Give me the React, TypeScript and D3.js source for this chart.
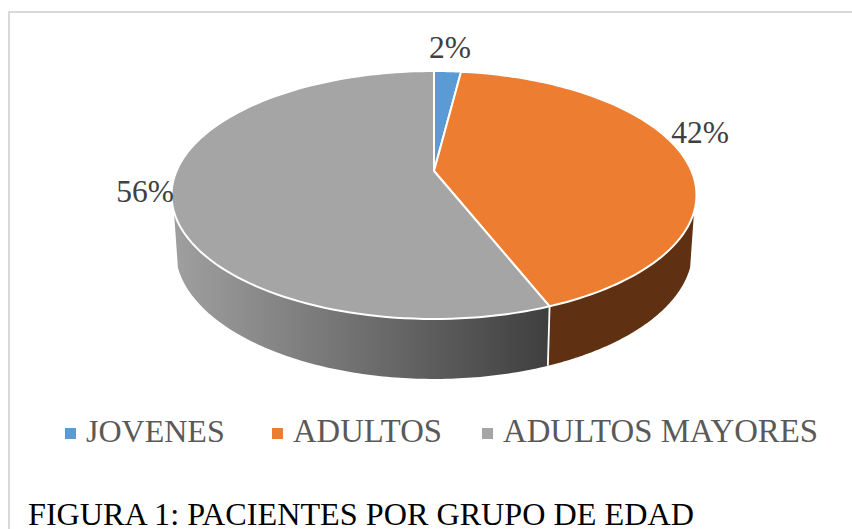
import React from "react";
import * as d3 from "d3";

const categories = ["JOVENES", "ADULTOS", "ADULTOS MAYORES"];
const shares = [2, 42, 56];
const colors = ["#5b9bd5", "#ed7d31", "#a5a5a5"];
const sideColors = ["#2f5f8c", "#5f3112", "url(#graySide)"];
const labelTexts = ["2%", "42%", "56%"];
const labelPos: [number, number][] = [[450, 58], [700, 143], [145, 202]];
const legendX = [65, 272, 482];
const legendFont = [32, 32.7, 32.8];
const titleText = "FIGURA 1: PACIENTES POR GRUPO DE EDAD";

const W = 852, H = 529;
const CX = 434, CY = 171;
const K = 0.1935, RX = 257.5, RY = 119.35;
const ELLIPSE_CY = 195, LOWER_CY = 250, SHRINK_X = 0.985, STRETCH_Y = 1.04;
const SIDE_TRIM = 0.327;

// perspective projection of the unit-circle pie onto the top face
const project = (a: number): [number, number] => {
  const u = Math.sin(a), v = -Math.cos(a);
  const w = 1 - K * v;
  return [CX + (RX * u) / w, CY + (RY * v) / w];
};
const lower = ([x, y]: [number, number]): [number, number] => [
  CX + (x - CX) * SHRINK_X,
  LOWER_CY + (y - ELLIPSE_CY) * STRETCH_Y,
];
const arcPts = (a0: number, a1: number, lo = false): [number, number][] =>
  d3.range(0, 1.0001, 1 / 120).map((t) => {
    const p = project(a0 + (a1 - a0) * t);
    return lo ? lower(p) : p;
  });

export default function App() {
  const arcs = d3.pie<number>().sort(null)(shares);
  const line = d3.line();
  return (
    <svg width={W} height={H} style={{ position: "absolute", left: 0, top: 0, background: "#fff" }} fontFamily="'Liberation Serif', serif">
      <defs>
        <linearGradient id="graySide" gradientUnits="userSpaceOnUse" x1={172} x2={548} y1={0} y2={0}>
          <stop offset="0" stopColor="#a0a0a0" />
          <stop offset="1" stopColor="#3f3f3f" />
        </linearGradient>
      </defs>
      <path d={`M9 ${H}V12H${W}`} fill="none" stroke="#d9d9d9" strokeWidth={2} />
      {arcs.map((d, i) => {
        const a0 = Math.max(d.startAngle, Math.PI / 2 + SIDE_TRIM);
        const a1 = Math.min(d.endAngle, (3 * Math.PI) / 2 - SIDE_TRIM);
        if (a1 <= a0) return null;
        const top = arcPts(a0, a1);
        const bot = arcPts(a0, a1, true).reverse();
        return (
          <path key={i} d={(line([...top, ...bot]) as string) + "Z"} fill={sideColors[i]} stroke="none" />
        );
      })}
      {(() => {
        const p = project(arcs[1].endAngle);
        return <path d={line([p, lower(p)]) as string} stroke="#fff" strokeWidth={1.8} fill="none" />;
      })()}
      {arcs.map((d, i) => {
        const pts = arcPts(d.startAngle, d.endAngle);
        return (
          <path key={i} d={(line([[CX, CY], ...pts]) as string) + "Z"} fill={colors[i]} stroke="#fff" strokeWidth={2} strokeLinejoin="round" />
        );
      })}
      {labelTexts.map((t, i) => (
        <text key={i} x={labelPos[i][0]} y={labelPos[i][1]} textAnchor="middle" fontSize={31.5} fill="#404040">{t}</text>
      ))}
      {categories.map((c, i) => (
        <g key={c}>
          <rect x={legendX[i]} y={428} width={11} height={11} fill={colors[i]} />
          <text x={legendX[i] + 21} y={442} fontSize={legendFont[i]} fill="#595959">{c}</text>
        </g>
      ))}
      <text x={28} y={525} fontSize={32.2} fill="#000">{titleText}</text>
    </svg>
  );
}
